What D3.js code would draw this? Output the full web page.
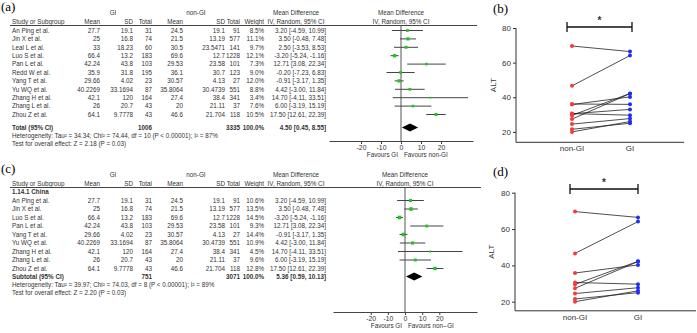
<!DOCTYPE html>
<html>
<head>
<meta charset="utf-8">
<script src="https://cdn.jsdelivr.net/npm/d3@7"></script>
<style>
  body { margin: 0; background: #fff; }
  svg { display: block; }
  .ft { font-family: "Liberation Sans", Arial, sans-serif; font-size: 6.3px; fill: #333; }
  .bold { font-weight: bold; }
  .lab { font-family: "Liberation Serif", "Times New Roman", serif; font-size: 13px; fill: #000; }
  .ax { font-family: "Liberation Sans", Arial, sans-serif; font-size: 8px; fill: #333; }
</style>
</head>
<body>
<div id="chart"></div>
<script>
'use strict';

// ---- Data ----
const studies = ['An Ping et al.', 'Jin X et al.', 'Leal L et al.', 'Luo S et al.', 'Pan L et al.',
  'Redd W et al.', 'Yang T et al.', 'Yu WQ et al.', 'Zhang H  et al.', 'Zhang L et al.', 'Zhou Z et al.'];
const giMean = [27.7, 25, 33, 66.4, 42.24, 35.9, 29.66, 40.2269, 42.1, 26, 64.1];
const giSD = [19.1, 16.8, 18.23, 13.2, 43.8, 31.8, 4.02, 33.1694, 120, 20.7, 9.7778];
const giN = [31, 74, 60, 183, 103, 195, 23, 87, 164, 43, 43];
const nonMean = [24.5, 21.5, 30.5, 69.6, 29.53, 36.1, 30.57, 35.8064, 27.4, 20, 46.6];
const nonSD = [19.1, 13.19, 23.5471, 12.7, 23.58, 30.7, 4.13, 30.4739, 38.4, 21.11, 21.704];
const nonN = [91, 577, 141, 1228, 101, 123, 27, 551, 341, 37, 118];
const md = [3.20, 3.50, 2.50, -3.20, 12.71, -0.20, -0.91, 4.42, 14.70, 6.00, 17.50];
const ciLo = [-4.59, -0.48, -3.53, -5.24, 3.08, -7.23, -3.17, -3.00, -4.11, -3.19, 12.61];
const ciHi = [10.99, 7.48, 8.53, -1.16, 22.34, 6.83, 1.35, 11.84, 33.51, 15.19, 22.39];
const weightA = [8.5, 11.1, 9.7, 12.1, 7.3, 9.0, 12.0, 8.8, 3.4, 7.6, 10.5];

// China subgroup (c): Leal and Redd excluded
const chinaIdx = [0, 1, 3, 4, 6, 7, 8, 9, 10];
const weightC = [10.6, 13.5, 14.5, 9.3, 14.4, 10.9, 4.5, 9.6, 12.8];

const totalA = {label: 'Total (95% CI)', giN: 1006, nonN: 3335, md: 4.50, lo: 0.45, hi: 8.55,
  het: 'Heterogeneity: Tau² = 34.34; Chi² = 74.44, df = 10 (P < 0.00001); I² = 87%',
  test: 'Test for overall effect: Z = 2.18 (P = 0.03)'};
const totalC = {label: 'Subtotal (95% CI)', giN: 751, nonN: 3071, md: 5.36, lo: 0.59, hi: 10.13,
  het: 'Heterogeneity: Tau² = 39.97; Chi² = 74.03, df = 8 (P < 0.00001); I² = 89%',
  test: 'Test for overall effect: Z = 2.20 (P = 0.03)'};

const forestTicks = [-20, -10, 0, 10, 20];
const altTicks = [20, 40, 60, 80];
const groups = ['non-GI', 'GI'];

// ---- SVG ----
const W = 697, H = 333;
const svg = d3.select('#chart').append('svg').attr('width', W).attr('height', H);

const fmt2 = v => v.toFixed(2);
const ciText = (m, l, h) => `${fmt2(m)} [${fmt2(l)}, ${fmt2(h)}]`;

function txt(g, x, y, s, anchor, cls) {
  return g.append('text').attr('class', 'ft' + (cls ? ' ' + cls : ''))
    .attr('x', x).attr('y', y + 2.3).attr('text-anchor', anchor || 'start').text(s);
}

/*
drawForest
*/
function drawForest(cfg) {
  const g = svg.append('g');
  const col = {study: 12, gMean: 100, gSD: 133, gN: 152, nMean: 183, nSD: 225, nN: 240,
    w: 264, md: 326, mdHead: 296};

  // panel label
  g.append('text').attr('class', 'lab').attr('x', 1).attr('y', cfg.labelY).text(cfg.label);

  // headers
  txt(g, 113, cfg.headY, 'GI', 'middle');
  txt(g, 196, cfg.headY, 'non-GI', 'middle');
  txt(g, col.mdHead, cfg.headY, 'Mean Difference', 'middle');
  txt(g, cfg.x(0), cfg.headY, 'Mean Difference', 'middle');
  const hy = cfg.headY + 8.5;
  txt(g, col.study, hy, 'Study or Subgroup');
  txt(g, col.gMean, hy, 'Mean', 'end');
  txt(g, col.gSD, hy, 'SD', 'end');
  txt(g, col.gN, hy, 'Total', 'end');
  txt(g, col.nMean, hy, 'Mean', 'end');
  txt(g, col.nSD, hy, 'SD', 'end');
  txt(g, col.nN, hy, 'Total', 'end');
  txt(g, col.w, hy, 'Weight', 'end');
  txt(g, col.mdHead, hy, 'IV, Random, 95% CI', 'middle');
  txt(g, cfg.x(0), hy, 'IV, Random, 95% CI', 'middle');
  g.append('line').attr('x1', 10).attr('x2', cfg.x.range()[1] + 4)
    .attr('y1', cfg.lineY).attr('y2', cfg.lineY).attr('stroke', '#444').attr('stroke-width', 1);

  if (cfg.subgroup) txt(g, col.study, cfg.subgroupY, cfg.subgroup, 'start', 'bold');

  // zero line
  g.append('line').attr('x1', cfg.x(0)).attr('x2', cfg.x(0))
    .attr('y1', cfg.lineY).attr('y2', cfg.axisY).attr('stroke', '#555').attr('stroke-width', 1);

  // study rows
  cfg.idx.forEach((k, i) => {
    const y = cfg.rowY(i);
    txt(g, col.study, y, studies[k]);
    txt(g, col.gMean, y, String(giMean[k]), 'end');
    txt(g, col.gSD, y, String(giSD[k]), 'end');
    txt(g, col.gN, y, String(giN[k]), 'end');
    txt(g, col.nMean, y, String(nonMean[k]), 'end');
    txt(g, col.nSD, y, String(nonSD[k]), 'end');
    txt(g, col.nN, y, String(nonN[k]), 'end');
    txt(g, col.w, y, cfg.weights[i].toFixed(1) + '%', 'end');
    txt(g, col.md, y, ciText(md[k], ciLo[k], ciHi[k]), 'end');

    g.append('line').attr('x1', cfg.x(ciLo[k])).attr('x2', cfg.x(ciHi[k]))
      .attr('y1', y).attr('y2', y).attr('stroke', '#444').attr('stroke-width', 1);
    const s = Math.sqrt(cfg.weights[i]) * 0.95;
    g.append('rect').attr('x', cfg.x(md[k]) - s / 2).attr('y', y - s / 2)
      .attr('width', s).attr('height', s).attr('fill', '#22c322');
  });

  // total row
  const t = cfg.total, ty = cfg.totalY;
  txt(g, col.study, ty, t.label, 'start', 'bold');
  txt(g, col.gN, ty, String(t.giN), 'end', 'bold');
  txt(g, col.nN, ty, String(t.nonN), 'end', 'bold');
  txt(g, col.w, ty, '100.0%', 'end', 'bold');
  txt(g, col.md, ty, ciText(t.md, t.lo, t.hi), 'end', 'bold');
  g.append('path')
    .attr('d', `M${cfg.x(t.lo)},${ty} L${cfg.x(t.md)},${ty - 4} L${cfg.x(t.hi)},${ty} L${cfg.x(t.md)},${ty + 4} Z`)
    .attr('fill', '#000');
  txt(g, col.study, cfg.hetY, t.het);
  txt(g, col.study, cfg.hetY + 8, t.test);

  // axis
  const ax = g.append('g').attr('transform', `translate(0,${cfg.axisY})`)
    .call(d3.axisBottom(cfg.x).tickValues(forestTicks).tickSize(3).tickSizeOuter(0).tickFormat(d => String(d)));
  ax.select('.domain').attr('stroke', '#444');
  ax.selectAll('.tick line').attr('stroke', '#444');
  ax.selectAll('.tick text').attr('class', 'ft').attr('dy', null).attr('y', 9).style('font-size', '6.8px');
  txt(g, cfg.x(0) - 3, cfg.axisY + 14, 'Favours GI', 'end');
  txt(g, cfg.x(0) + 3, cfg.axisY + 14, cfg.favRight, 'start');
}

drawForest({
  label: '(a)', labelY: 11, headY: 13, lineY: 25.5,
  x: d3.scaleLinear().domain([-36, 36]).range([329, 473]),
  idx: d3.range(studies.length), weights: weightA,
  rowY: i => 30.5 + 8.4 * i, totalY: 127.5, hetY: 135.5, axisY: 141,
  total: totalA, favRight: 'Favours non-GI'
});

drawForest({
  label: '(c)', labelY: 173, headY: 175, lineY: 187.5,
  x: d3.scaleLinear().domain([-42, 42]).range([333, 477]),
  idx: chinaIdx, weights: weightC, subgroup: '1.14.1 China', subgroupY: 192,
  rowY: i => 200.5 + 8.5 * i, totalY: 276.5, hetY: 284.5, axisY: 312,
  total: totalC, favRight: 'Favours non--GI'
});

/*
drawPaired
*/
function drawPaired(cfg) {
  const g = svg.append('g');
  const y = d3.scaleLinear().domain(cfg.yDomain).range(cfg.yRange);
  const x = d3.scalePoint().domain(groups).range(cfg.xPts);

  g.append('text').attr('class', 'lab').attr('x', 493).attr('y', cfg.labelY).text(cfg.label);

  // y axis
  const ya = g.append('g').attr('transform', `translate(${cfg.axisX},0)`)
    .call(d3.axisLeft(y).tickValues(altTicks).tickSize(3).tickSizeOuter(0));
  ya.select('.domain').attr('d', `M0,${y(80)}V${cfg.yRange[0]}`).attr('stroke', '#333');
  ya.selectAll('.tick line').attr('stroke', '#333');
  ya.selectAll('.tick text').attr('class', 'ax').attr('x', -5);
  g.append('text').attr('class', 'ax')
    .attr('transform', `translate(${cfg.altX},${(y(80) + cfg.yRange[0]) / 2}) rotate(-90)`)
    .attr('text-anchor', 'middle').text('ALT');

  // x axis
  g.append('line').attr('x1', cfg.axisX).attr('x2', cfg.xEnd)
    .attr('y1', cfg.yRange[0]).attr('y2', cfg.yRange[0]).attr('stroke', '#333');
  groups.forEach(c => {
    g.append('text').attr('class', 'ax').attr('x', x(c)).attr('y', cfg.yRange[0] + 9)
      .attr('text-anchor', 'middle').text(c);
  });

  // paired lines and dots
  cfg.idx.forEach(k => {
    g.append('line').attr('x1', x('non-GI')).attr('x2', x('GI'))
      .attr('y1', y(nonMean[k])).attr('y2', y(giMean[k]))
      .attr('stroke', '#222').attr('stroke-width', 0.8);
  });
  cfg.idx.forEach(k => {
    g.append('circle').attr('cx', x('non-GI')).attr('cy', y(nonMean[k])).attr('r', 2).attr('fill', '#f03c3c');
    g.append('circle').attr('cx', x('GI')).attr('cy', y(giMean[k])).attr('r', 2).attr('fill', '#1f2fef');
  });

  // significance bracket
  const [bx1, bx2] = cfg.bracketX, by = cfg.bracketY;
  g.append('path')
    .attr('d', `M${bx1},${by - 5}V${by + 5}M${bx1},${by}H${bx2}M${bx2},${by - 5}V${by + 5}`)
    .attr('stroke', '#111').attr('stroke-width', 1.3).attr('fill', 'none');
  g.append('text').attr('class', 'ax').attr('x', (bx1 + bx2) / 2).attr('y', by - 3)
    .attr('text-anchor', 'middle').style('font-size', '10px').style('font-weight', 'bold').text('*');
}

drawPaired({
  label: '(b)', labelY: 13, yDomain: [14, 80], yRange: [142.3, 28], axisX: 516, xEnd: 684,
  xPts: [572, 630], altX: 496, bracketX: [567, 632], bracketY: 27,
  idx: d3.range(studies.length)
});

drawPaired({
  label: '(d)', labelY: 176, yDomain: [15, 80], yRange: [310.8, 192.7], axisX: 515, xEnd: 696,
  xPts: [575, 638], altX: 494, bracketX: [570, 638], bracketY: 189,
  idx: chinaIdx
});
</script>
</body>
</html>
